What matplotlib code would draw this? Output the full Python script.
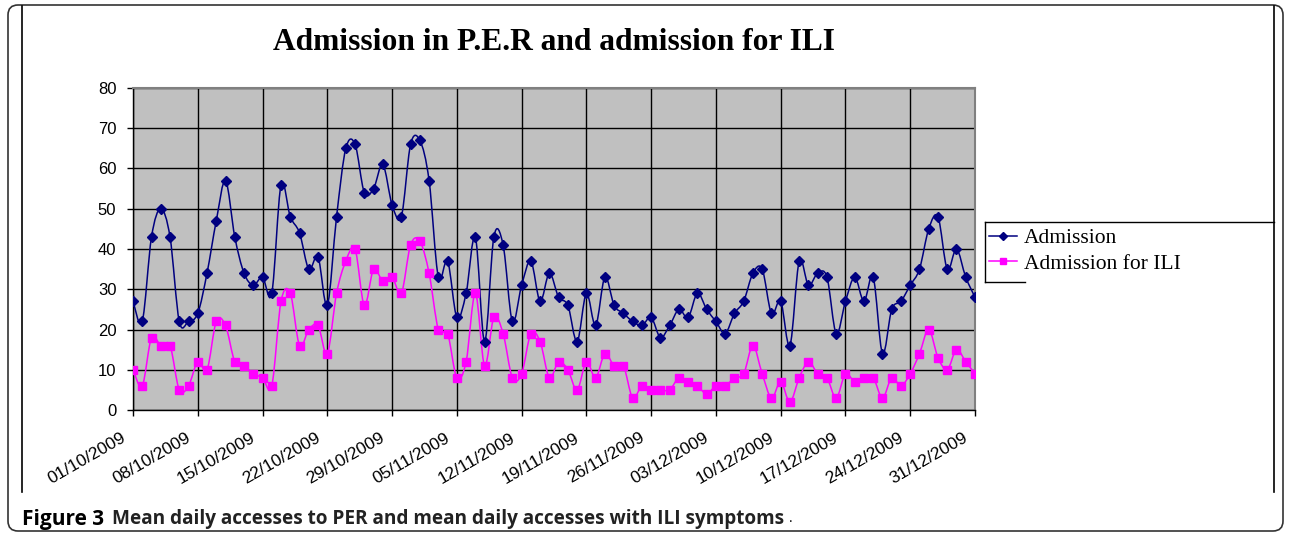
"""Admission in P.E.R and admission for ILI, Oct-Dec 2009."""

import matplotlib

matplotlib.use("Agg")
import matplotlib.pyplot as plt
import matplotlib.transforms as mtransforms
import numpy as np
import pandas as pd
from matplotlib.lines import Line2D
from matplotlib.patches import FancyBboxPatch, PathPatch
from matplotlib.path import Path

# daily values, 01/10/2009 .. 31/12/2009
dates = pd.date_range("2009-10-01", "2009-12-31", freq="D")
admission = [
    27, 22, 43, 50, 43, 22, 22, 24, 34, 47, 57, 43, 34, 31, 33, 29, 56, 48, 44, 35, 38, 26, 48,
    65, 66, 54, 55, 61, 51, 48, 66, 67, 57, 33, 37, 23, 29, 43, 17, 43, 41, 22, 31, 37, 27,
    34, 28, 26, 17, 29, 21, 33, 26, 24, 22, 21, 23, 18, 21, 25, 23, 29, 25, 22, 19, 24,
    27, 34, 35, 24, 27, 16, 37, 31, 34, 33, 19, 27, 33, 27, 33, 14, 25, 27, 31, 35, 45, 48, 35, 40, 33, 28,
]
admission_ili = [
    10, 6, 18, 16, 16, 5, 6, 12, 10, 22, 21, 12, 11, 9, 8, 6, 27, 29, 16, 20, 21, 14, 29,
    37, 40, 26, 35, 32, 33, 29, 41, 42, 34, 20, 19, 8, 12, 29, 11, 23, 19, 8, 9, 19, 17,
    8, 12, 10, 5, 12, 8, 14, 11, 11, 3, 6, 5, 5, 5, 8, 7, 6, 4, 6, 6, 8,
    9, 16, 9, 3, 7, 2, 8, 12, 9, 8, 3, 9, 7, 8, 8, 3, 8, 6, 9, 14, 20, 13, 10, 15, 12, 9,
]
series_labels = ["Admission", "Admission for ILI"]
title = "Admission in P.E.R and admission for ILI"

W, H = 1290, 536


def smooth_path(x, y):
    """Excel-like smoothed line: cubic Bezier segments through every point."""
    p = np.column_stack([x, y]).astype(float)
    ext = np.vstack([p[0], p, p[-1]])
    verts = [p[0]]
    codes = [Path.MOVETO]
    for i in range(len(p) - 1):
        c1 = ext[i + 1] + (ext[i + 2] - ext[i]) / 6.0
        c2 = ext[i + 2] - (ext[i + 3] - ext[i + 1]) / 6.0
        verts += [c1, c2, ext[i + 2]]
        codes += [Path.CURVE4] * 3
    return Path(verts, codes)


fig = plt.figure(figsize=(W / 100, H / 100), dpi=100)
fig.patch.set_facecolor("white")

# page frame
fig.patches.append(FancyBboxPatch((0.08, 0.05), 12.75, 5.26, boxstyle="round,pad=0,rounding_size=0.1",
                                  transform=fig.dpi_scale_trans, fill=False, ec="#333333", lw=1.2))
for xp in (22, 1274):
    fig.lines.append(Line2D([xp / W, xp / W], [1 - 492 / H, 1 - 6 / H], transform=fig.transFigure,
                            color="black", lw=1.2))

ax = fig.add_axes([133 / W, 1 - 410 / H, (975 - 133) / W, (410 - 88) / H])
ax.set_facecolor("#C0C0C0")

x = np.arange(len(dates))
ax.set_xlim(0, len(dates) - 1)
ax.set_ylim(0, 80)

ax.set_xticks(x[::7])
ax.set_xticklabels([d.strftime("%d/%m/%Y") for d in dates[::7]], rotation=30, ha="right", va="top",
                   rotation_mode="anchor", fontsize=12.5, family="Liberation Sans")
ax.set_yticks(np.arange(0, 81, 10))
ax.set_yticklabels([str(v) for v in range(0, 81, 10)], fontsize=12, family="Liberation Sans")
ax.tick_params(axis="x", length=4.5, width=1, direction="out", pad=10)
ax.tick_params(axis="y", length=4.5, width=1, direction="out", pad=7.5)
shift = mtransforms.ScaledTranslation(-12 / 100, 0, fig.dpi_scale_trans)
for lbl in ax.get_xticklabels():
    lbl.set_transform(lbl.get_transform() + shift)
ax.grid(True, color="black", lw=1)
ax.set_axisbelow(True)

for side in ("top", "right"):
    ax.spines[side].set_color("#808080")
    ax.spines[side].set_linewidth(1.5)
for side in ("left", "bottom"):
    ax.spines[side].set_color("black")
    ax.spines[side].set_linewidth(1)

colors = ["#000080", "#FF00FF"]
markers = ["D", "s"]
msizes = [5, 6]
handles = []
for vals, col, mk, ms, lab in zip([admission, admission_ili], colors, markers, msizes, series_labels):
    ax.add_patch(PathPatch(smooth_path(x, vals), fill=False, ec=col, lw=1.1, zorder=3))
    ax.plot(x, vals, ls="none", marker=mk, ms=ms, color=col, zorder=4)
    handles.append(Line2D([], [], color=col, lw=1.1, marker=mk, ms=ms - 1))

fig.text(554 / W, 1 - 42 / H, title, ha="center", va="center", fontsize=22.7, fontweight="bold",
         family="Liberation Serif")

leg = fig.legend(handles, series_labels, loc="upper left", bbox_to_anchor=(987 / W, 1 - 226 / H),
                 frameon=False, borderaxespad=0, borderpad=0.1, handlelength=1.3, handletextpad=0.3,
                 labelspacing=0.25, prop={"family": "Liberation Serif", "size": 15.5})
# legend frame (partly hidden behind the chart edge in the original)
for xs, ys in (([985, 1274], [222, 222]), ([985, 985], [222, 282]), ([985, 1025], [282, 282])):
    fig.lines.append(Line2D([v / W for v in xs], [1 - v / H for v in ys], transform=fig.transFigure,
                            color="black", lw=1))

fig.text(22 / W, 1 - 519 / H, "Figure 3", ha="left", va="center", fontsize=15, fontweight="bold",
         family="Open Sans")
fig.text(112 / W, 1 - 519 / H, "Mean daily accesses to PER and mean daily accesses with ILI symptoms",
         ha="left", va="center", fontsize=13.7, fontweight="bold", family="Open Sans", color="#222222")
fig.text(789 / W, 1 - 519 / H, ".", ha="left", va="center", fontsize=10, family="Open Sans")

fig.savefig("out.png", dpi=100)
